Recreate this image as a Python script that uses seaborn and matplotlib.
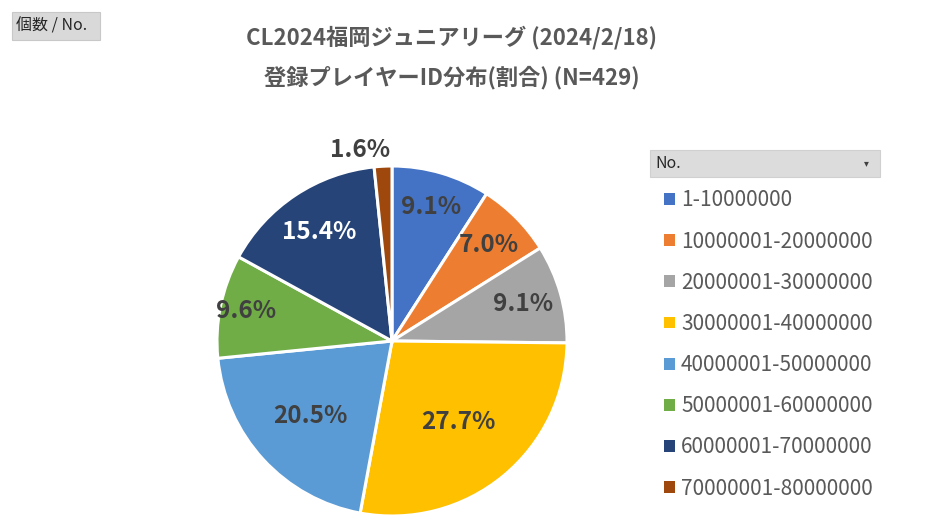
import numpy as np
import matplotlib
matplotlib.use("Agg")
import matplotlib.pyplot as plt
from matplotlib.patches import Rectangle
import seaborn as sns

# data (counts out of N=429)
ranges = ['1-10000000', '10000001-20000000', '20000001-30000000', '30000001-40000000',
          '40000001-50000000', '50000001-60000000', '60000001-70000000', '70000001-80000000']
counts = [39, 30, 39, 119, 88, 41, 66, 7]
colors = ['#4472C4', '#ED7D31', '#A5A5A5', '#FFC000', '#5B9BD5', '#70AD47', '#264478', '#9E480E']

sns.set_theme(style="white")
plt.rcParams['font.family'] = ['Noto Sans CJK JP', 'DejaVu Sans']
txt_col = '#595959'

fig = plt.figure(figsize=(9.36, 5.22), dpi=100)
fig.patch.set_facecolor('white')

# pie axes: centre ~ (392,341) px, radius ~175 px
W, H = 936, 522
cx, cy, R = 392, 341, 175
ax = fig.add_axes([(cx - R) / W, (H - cy - R) / H, 2 * R / W, 2 * R / H])
pal = sns.color_palette(colors)
wedges, texts, autotexts = ax.pie(counts, colors=pal, startangle=90, counterclock=False,
                                  autopct='%1.1f%%', pctdistance=0.75,
                                  wedgeprops=dict(edgecolor='white', linewidth=2.2),
                                  textprops=dict(fontsize=17.5, fontweight='bold', color='#404040'))
ax.set_xlim(-1, 1)
ax.set_ylim(-1, 1)
ax.set_aspect('equal')

# label distances per slice (Excel "best fit" look)
dists = [0.8, 0.78, 0.78, 0.6, 0.63, 0.85, 0.75, 1.12]
for w, t, d in zip(wedges, autotexts, dists):
    ang = np.deg2rad((w.theta1 + w.theta2) / 2)
    t.set_position((d * np.cos(ang), d * np.sin(ang)))
autotexts[-1].set_position((-0.18, 1.09))
autotexts[6].set_color('white')

# title
fig.text(452 / W, 0.928, 'CL2024福岡ジュニアリーグ (2024/2/18)', ha='center', va='center',
         fontsize=16, fontweight='bold', color=txt_col)
fig.text(452 / W, 0.851, '登録プレイヤーID分布(割合) (N=429)', ha='center', va='center',
         fontsize=16, fontweight='bold', color=txt_col)

# field button top-left
fig.patches.append(Rectangle((12 / W, 1 - 40 / H), 88 / W, 28 / H, transform=fig.transFigure,
                             facecolor='#D9D9D9', edgecolor='#C8C8C8', linewidth=0.8))
fig.text(16 / W, 1 - 26 / H, '個数 / No.', ha='left', va='center', fontsize=11.5, color='#262626')

# legend header button
fig.patches.append(Rectangle((650 / W, 1 - 177 / H), 230 / W, 27 / H, transform=fig.transFigure,
                             facecolor='#DCDCDC', edgecolor='#D0D0D0', linewidth=0.8))
fig.text(655 / W, 1 - 163 / H, 'No.', ha='left', va='center', fontsize=11.5, color='#262626')
fig.text(866 / W, 1 - 163 / H, '▾', ha='center', va='center', fontsize=7, color='#404040',
         family=['DejaVu Sans'])

leg = fig.legend(wedges, ranges, loc='upper left', bbox_to_anchor=(656 / W, 1 - 181 / H),
                 frameon=False, fontsize=15, labelspacing=0.92, handlelength=0.5,
                 handleheight=0.5, handletextpad=0.3, borderaxespad=0)
for t in leg.get_texts():
    t.set_color(txt_col)
for h in leg.legend_handles:
    h.set_edgecolor('none')

fig.savefig('out.png', dpi=100)
